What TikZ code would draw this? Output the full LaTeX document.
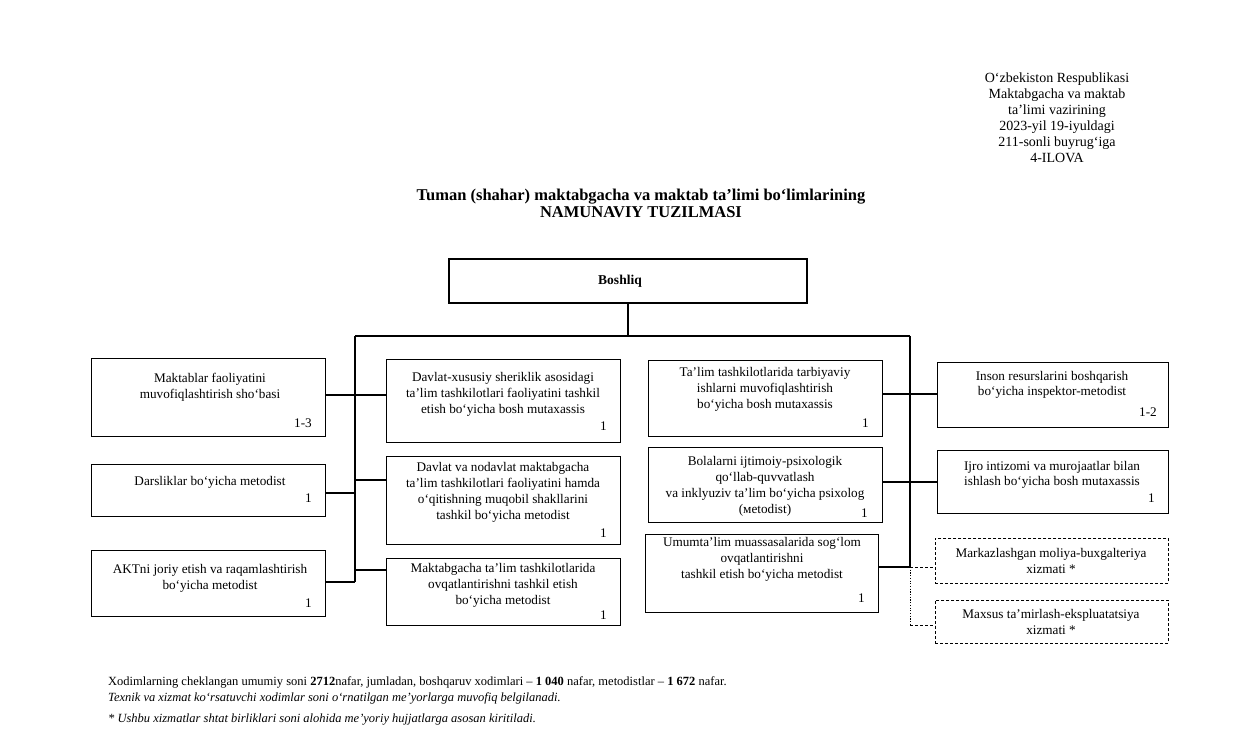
\documentclass[tikz,border=0pt]{standalone}
\usepackage{fontspec}
\setmainfont{Liberation Serif}
\begin{document}
\begin{tikzpicture}[x=1pt,y=-1pt,
  box/.style={draw, line width=1.1pt, inner sep=0pt, anchor=north west},
  dbox/.style={draw, line width=0.9pt, dash pattern=on 3pt off 2pt, inner sep=0pt, anchor=north west},
  txt/.style={align=center, font=\fontsize{13.2}{16}\selectfont, inner sep=0pt},
  txts/.style={align=center, font=\fontsize{13.2}{15}\selectfont, inner sep=0pt},
  num/.style={anchor=east, font=\fontsize{13.2}{15}\selectfont, inner sep=0pt},
  conn/.style={line width=1.1pt},
  dconn/.style={line width=0.9pt, dash pattern=on 3pt off 2pt},
  dotconn/.style={line width=0.9pt, dash pattern=on 1.2pt off 1.5pt},
  foot/.style={anchor=base west, inner sep=0pt, font=\fontsize{12.5}{14}\selectfont}]
\useasboundingbox[fill=white] (0,0) rectangle (1237,743);

% header
\node[align=center, font=\fontsize{14}{16}\selectfont, inner sep=0pt] (hdr) at (1057,118)
  {O‘zbekiston Respublikasi\\Maktabgacha va maktab\\ta’limi vazirining\\2023-yil 19-iyuldagi\\211-sonli buyrug‘iga\\4-ILOVA};

% title
\node[align=center, font=\fontsize{16.5}{17}\bfseries, inner sep=0pt] (title) at (641,203)
  {Tuman (shahar) maktabgacha va maktab ta’limi bo‘limlarining\\NAMUNAVIY TUZILMASI};

% Boshliq
\node[draw, line width=1.9pt, inner sep=0pt, anchor=north west, minimum width=358pt, minimum height=44pt] (bosh) at (448,258) {};
\node[font=\fontsize{13.5}{15}\bfseries, inner sep=0pt] (boshT) at (620,281) {Boshliq};

% left column
\node[box, minimum width=234pt, minimum height=78pt] (makt) at (91,358) {};
\node[txt] (maktT) at (210,387) {Maktablar faoliyatini\\muvofiqlashtirish sho‘basi};
\node[num] (maktN) at (312,423) {1-3};

\node[box, minimum width=234pt, minimum height=52pt] (dars) at (91,464) {};
\node[txt] (darsT) at (210,482) {Darsliklar bo‘yicha metodist};
\node[num] (darsN) at (312,498) {1};

\node[box, minimum width=234pt, minimum height=66pt] (akt) at (91,550) {};
\node[txt] (aktT) at (210,578) {AKTni joriy etish va raqamlashtirish\\bo‘yicha metodist};
\node[num] (aktN) at (312,603) {1};

% middle column
\node[box, minimum width=234pt, minimum height=83pt] (davx) at (386,359) {};
\node[txt] (davxT) at (503,394) {Davlat-xususiy sheriklik asosidagi\\ta’lim tashkilotlari faoliyatini tashkil\\etish bo‘yicha bosh mutaxassis};
\node[num] (davxN) at (607,426) {1};

\node[box, minimum width=234pt, minimum height=88pt] (davn) at (386,456) {};
\node[txt] (davnT) at (503,492) {Davlat va nodavlat maktabgacha\\ta’lim tashkilotlari faoliyatini hamda\\o‘qitishning muqobil shakllarini\\tashkil bo‘yicha metodist};
\node[num] (davnN) at (607,533) {1};

\node[box, minimum width=234pt, minimum height=67pt] (mtov) at (386,558) {};
\node[txt] (mtovT) at (503,585) {Maktabgacha ta’lim tashkilotlarida\\ovqatlantirishni tashkil etish\\bo‘yicha metodist};
\node[num] (mtovN) at (607,615) {1};

% right-middle column
\node[box, minimum width=234pt, minimum height=76pt] (tarb) at (648,360) {};
\node[txt] (tarbT) at (765,389) {Ta’lim tashkilotlarida tarbiyaviy\\ishlarni muvofiqlashtirish\\bo‘yicha bosh mutaxassis};
\node[num] (tarbN) at (869,423) {1};

\node[box, minimum width=234pt, minimum height=75pt] (psix) at (648,447) {};
\node[txt] (psixT) at (765,486) {Bolalarni ijtimoiy-psixologik\\qo‘llab-quvvatlash\\va inklyuziv ta’lim bo‘yicha psixolog\\(мetodist)};
\node[num] (psixN) at (868,513) {1};

\node[box, minimum width=233pt, minimum height=78pt] (umum) at (645,534) {};
\node[txt] (umumT) at (762,559) {Umumta’lim muassasalarida sog‘lom\\ovqatlantirishni\\tashkil etish bo‘yicha metodist};
\node[num] (umumN) at (865,598) {1};

% right column
\node[box, minimum width=231pt, minimum height=65pt] (inson) at (937,362) {};
\node[txts] (insonT) at (1052,385) {Inson resurslarini boshqarish\\bo‘yicha inspektor-metodist};
\node[num] (insonN) at (1157,412) {1-2};

\node[box, minimum width=231pt, minimum height=63pt] (ijro) at (937,450) {};
\node[txts] (ijroT) at (1052,475) {Ijro intizomi va murojaatlar bilan\\ishlash bo‘yicha bosh mutaxassis};
\node[num] (ijroN) at (1155,498) {1};

\node[dbox, minimum width=233pt, minimum height=45pt] (moli) at (935,538) {};
\node[txt] (moliT) at (1051,561) {Markazlashgan moliya-buxgalteriya\\xizmati *};

\node[dbox, minimum width=233pt, minimum height=43pt] (maxs) at (935,600) {};
\node[txt] (maxsT) at (1051,622) {Maxsus ta’mirlash-ekspluatatsiya\\xizmati *};

% bus coordinates
\coordinate (top) at (627,336);
\coordinate (bl) at (355,336);
\coordinate (br) at (910,336);
\coordinate (blend) at (355,582);
\coordinate (j1) at (355,395);
\coordinate (j2) at (355,493);
\coordinate (j3) at (355,480);
\coordinate (j4) at (355,570);
\coordinate (r1) at (910,394);
\coordinate (r2) at (910,482);
\coordinate (r3) at (910,567);
\coordinate (r4) at (910,625);

\draw[conn] (bosh.south) -- (bosh.south |- top);
\draw[conn] (bl) -- (br);
\draw[conn] (bl) -- (blend);
\draw[conn] (br) -- (r3);

\draw[conn] (makt.east |- j1) -- (davx.west |- j1);
\draw[conn] (dars.east |- j2) -- (j2);
\draw[conn] (j3) -- (davn.west |- j3);
\draw[conn] (j4) -- (mtov.west |- j4);
\draw[conn] (akt.east |- blend) -- (blend);

\draw[conn] (tarb.east |- r1) -- (inson.west |- r1);
\draw[conn] (psix.east |- r2) -- (ijro.west |- r2);
\draw[conn] (umum.east |- r3) -- (r3);
\draw[dconn] (r3) -- (moli.west |- r3);
\draw[dotconn] (r3) -- (r4);
\draw[dconn] (r4) -- (maxs.west |- r4);

% footer
\node[foot] (f1) at (108,685) {Xodimlarning cheklangan umumiy soni \textbf{2712}nafar, jumladan, boshqaruv xodimlari – \textbf{1 040} nafar, metodistlar – \textbf{1 672} nafar.};
\node[foot, font=\fontsize{12.5}{14}\itshape] (f2) at (108,701) {Texnik va xizmat ko‘rsatuvchi xodimlar soni o‘rnatilgan me’yorlarga muvofiq belgilanadi.};
\node[foot, font=\fontsize{12.5}{14}\itshape] (f3) at (108,722) {* Ushbu xizmatlar shtat birliklari soni alohida me’yoriy hujjatlarga asosan kiritiladi.};
\end{tikzpicture}
\end{document}
